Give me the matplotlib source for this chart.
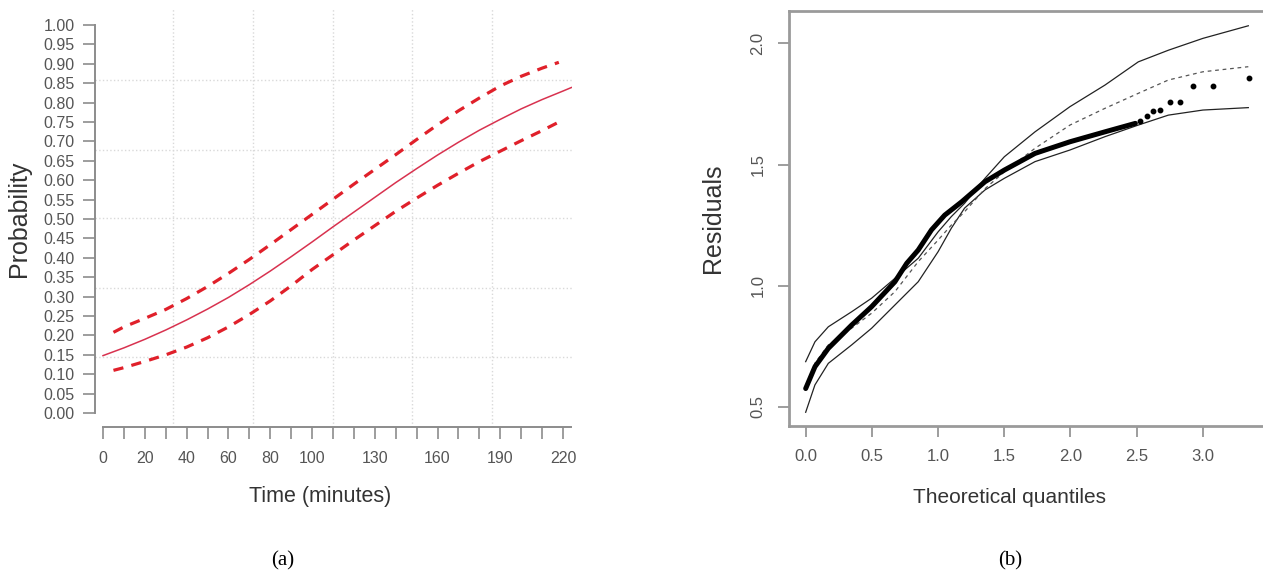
import matplotlib
matplotlib.use("Agg")
import matplotlib.pyplot as plt

plt.rcParams["font.family"] = ["Liberation Sans", "DejaVu Sans"]

# (a) fitted probability over time, with 95% band
time_fit = [0, 10, 20, 30, 40, 50, 60, 70, 80, 90, 100, 110, 120, 130, 140, 150, 160,
            170, 180, 190, 200, 210, 220, 224]
prob_fit = [0.148, 0.168, 0.190, 0.214, 0.240, 0.268, 0.298, 0.331, 0.366, 0.403, 0.441,
            0.480, 0.518, 0.556, 0.594, 0.630, 0.665, 0.698, 0.729, 0.757, 0.784, 0.808,
            0.830, 0.839]

time_band = [5, 10, 20, 30, 40, 50, 60, 70, 80, 90, 100, 110, 120, 130, 140, 150, 160,
             170, 180, 190, 200, 210, 218]
prob_upper = [0.208, 0.222, 0.244, 0.267, 0.295, 0.326, 0.360, 0.396, 0.434, 0.473, 0.512,
              0.551, 0.590, 0.628, 0.666, 0.705, 0.743, 0.779, 0.812, 0.843, 0.868, 0.889,
              0.904]
prob_lower = [0.110, 0.117, 0.133, 0.150, 0.170, 0.194, 0.222, 0.254, 0.289, 0.328, 0.370,
              0.408, 0.446, 0.483, 0.520, 0.554, 0.587, 0.618, 0.648, 0.675, 0.702, 0.728,
              0.750]

grid_x = [33.6, 71.9, 110.2, 147.7, 185.9]
grid_y = [0.145, 0.321, 0.502, 0.678, 0.858]

x_ticks = list(range(0, 221, 10))
x_labels = {0: "0", 20: "20", 40: "40", 60: "60", 80: "80", 100: "100",
            130: "130", 160: "160", 190: "190", 220: "220"}
y_ticks = [i * 0.05 for i in range(21)]

# (b) half-normal plot with simulated envelope
q_env = [0, 0.07, 0.171, 0.347, 0.498, 0.674, 0.85, 1.0, 1.10, 1.20, 1.354, 1.5,
         1.732, 1.996, 2.26, 2.512, 2.739, 3.0, 3.343]
env_upper = [0.686, 0.768, 0.830, 0.892, 0.948, 1.030, 1.113, 1.222, 1.285, 1.340, 1.443, 1.532,
             1.635, 1.739, 1.828, 1.924, 1.972, 2.021, 2.073]
env_lower = [0.477, 0.590, 0.679, 0.755, 0.824, 0.920, 1.016, 1.140, 1.237, 1.320, 1.395, 1.443,
             1.512, 1.560, 1.615, 1.663, 1.704, 1.725, 1.735]
env_mid = [0.583, 0.680, 0.755, 0.824, 0.886, 0.975, 1.099, 1.188, 1.250, 1.305, 1.400, 1.470,
           1.567, 1.663, 1.732, 1.794, 1.849, 1.883, 1.904]

q_dense = [0, 0.07, 0.171, 0.347, 0.498, 0.674, 0.763, 0.85, 0.95, 1.05, 1.178, 1.354, 1.5,
           1.732, 1.996, 2.26, 2.49]
r_dense = [0.575, 0.665, 0.741, 0.837, 0.913, 1.016, 1.092, 1.147, 1.230, 1.291, 1.346, 1.429,
           1.477, 1.546, 1.594, 1.635, 1.670]
q_tail = [2.525, 2.575, 2.62, 2.676, 2.751, 2.827, 2.928, 3.079, 3.348]
r_tail = [1.680, 1.700, 1.721, 1.725, 1.758, 1.758, 1.824, 1.824, 1.858]

fig = plt.figure(figsize=(12.63, 5.79), dpi=100)

tick_col = "#555555"
axis_col = "#8c8c8c"
label_col = "#333333"

ax1 = fig.add_axes([0.07522, 0.26252, 0.37767, 0.72366])
for gx in grid_x:
    ax1.axvline(gx, color="#d9d9d9", lw=1, ls=":", zorder=0)
for gy in grid_y:
    ax1.axhline(gy, color="#d9d9d9", lw=1, ls=":", zorder=0)
ax1.plot(time_fit, prob_fit, color="#d8324f", lw=1.1)
ax1.plot(time_band, prob_upper, color="#e0202a", lw=2.3, dashes=(3.2, 2.6))
ax1.plot(time_band, prob_lower, color="#e0202a", lw=2.3, dashes=(3.2, 2.6))
ax1.set_xlim(-3.83, 224.3)
ax1.set_ylim(-0.036, 1.044)
ax1.spines["top"].set_visible(False)
ax1.spines["right"].set_visible(False)
ax1.spines["left"].set_bounds(0, 1)
ax1.spines["bottom"].set_bounds(0, 224)
for s in ("left", "bottom"):
    ax1.spines[s].set_color(axis_col)
    ax1.spines[s].set_linewidth(1.4)
ax1.set_xticks(x_ticks)
ax1.set_xticklabels([x_labels.get(t, "") for t in x_ticks])
ax1.set_yticks(y_ticks)
ax1.set_yticklabels([f"{v:.2f}" for v in y_ticks])
ax1.tick_params(axis="both", colors=axis_col, labelcolor=tick_col, labelsize=11.5,
                width=1.2, length=8.5)
ax1.tick_params(axis="x", pad=9)
ax1.tick_params(axis="y", pad=6)
ax1.set_xlabel("Time (minutes)", fontsize=15.5, color=label_col)
ax1.xaxis.set_label_coords(0.472, -0.167)
ax1.xaxis.label.set_va("center")
ax1.set_ylabel("Probability", fontsize=18, color=label_col)
ax1.yaxis.set_label_coords(-0.159, 0.496)
ax1.yaxis.label.set_va("center")

ax2 = fig.add_axes([0.6247, 0.2648, 0.3793, 0.7162])
ax2.plot(q_env, env_upper, color="#222222", lw=0.9)
ax2.plot(q_env, env_lower, color="#222222", lw=0.9)
ax2.plot(q_env, env_mid, color="#555555", lw=0.9, dashes=(3, 3))
ax2.plot(q_dense, r_dense, color="black", lw=3.6, solid_capstyle="round")
ax2.plot(q_tail, r_tail, "o", color="black", ms=3.2)
ax2.set_xlim(-0.126, 3.492)
ax2.set_ylim(0.4216, 2.134)
for s in ax2.spines.values():
    s.set_color("#9a9a9a")
    s.set_linewidth(2)
ax2.set_xticks([0, 0.5, 1.0, 1.5, 2.0, 2.5, 3.0])
ax2.set_xticklabels(["0.0", "0.5", "1.0", "1.5", "2.0", "2.5", "3.0"])
ax2.set_yticks([0.5, 1.0, 1.5, 2.0])
ax2.set_yticklabels(["0.5", "1.0", "1.5", "2.0"], rotation=90, va="center")
ax2.tick_params(axis="both", colors=axis_col, labelcolor=tick_col, labelsize=12,
                width=1.2, length=8)
ax2.tick_params(axis="x", pad=9)
ax2.tick_params(axis="y", pad=9)
ax2.set_xlabel("Theoretical quantiles", fontsize=15, color=label_col)
ax2.xaxis.set_label_coords(0.461, -0.174)
ax2.xaxis.label.set_va("center")
ax2.set_ylabel("Residuals", fontsize=18, color=label_col)
ax2.yaxis.set_label_coords(-0.159, 0.50)
ax2.yaxis.label.set_va("center")

fig.text(283 / 1263, 1 - 561 / 579, "(a)", family=["Liberation Serif"], fontsize=15,
         ha="center", va="center")
fig.text(1010 / 1263, 1 - 561 / 579, "(b)", family=["Liberation Serif"], fontsize=15,
         ha="center", va="center")

fig.savefig("out.png", dpi=100)
